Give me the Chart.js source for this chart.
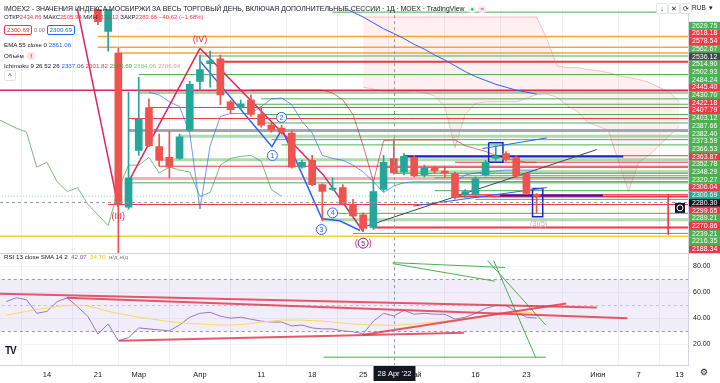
<!DOCTYPE html>
<html>
<head>
<meta charset="utf-8">
<title>IMOEX2 1D</title>
<script src="https://cdn.jsdelivr.net/npm/chart.js@4.4.1/dist/chart.umd.min.js"></script>
<style>
  html, body { margin: 0; padding: 0; background: #fff; }
  #wrap { position: relative; width: 720px; height: 383px; overflow: hidden;
          font-family: "Liberation Sans", Arial, sans-serif; color: #131722; }
  #chart { position: absolute; left: 0; top: 0; }
  .lg { position: absolute; left: 4px; white-space: nowrap; font-size: 6.5px; line-height: 9px; }
  .rd { color: #f23645; }
  .bl { color: #2962ff; }
  .box { display: inline-block; border: 1px solid #f23645; color: #f23645; border-radius: 2px;
         padding: 0 2px; line-height: 8px; background: #fff; }
  .box.b { border-color: #2962ff; color: #2962ff; }
  .btn { position: absolute; width: 10px; height: 9px; border: 1px solid #e0e3eb; border-radius: 2px;
         font-size: 7px; line-height: 9px; text-align: center; color: #131722; background: #fff; }
</style>
</head>
<body>
<div id="wrap">
  <canvas id="chart" width="720" height="383"></canvas>

  <div class="lg" style="top:4px;font-size:6.85px">IMOEX2 - ЗНАЧЕНИЯ ИНДЕКСА МОСБИРЖИ ЗА ВЕСЬ ТОРГОВЫЙ ДЕНЬ, ВКЛЮЧАЯ ДОПОЛНИТЕЛЬНЫЕ СЕССИИ · 1Д · MOEX · TradingView
    &nbsp;<span style="display:inline-block;width:8px;height:7px;border-radius:4px;background:#e8f5e9;color:#26a69a;text-align:center;font-size:6px;line-height:7px">●</span>
    <span style="display:inline-block;width:8px;height:7px;border-radius:4px;background:#fce4ec;color:#f23645;text-align:center;font-size:6px;line-height:7px">=</span></div>
  <div class="lg" style="top:13px;font-size:6px">ОТКР<span class="rd">2434.86</span> МАКС<span class="rd">2505.94</span> МИН<span class="rd">2379.12</span> ЗАКР<span class="rd">2383.66</span> <span class="rd">−40.62 (−1.68%)</span></div>
  <div class="lg" style="top:25px;font-size:6.2px"><span class="box">2300.69</span> <span style="color:#787b86;font-size:5.5px">0.00</span> <span class="box b">2300.69</span></div>
  <div class="lg" style="top:40px;font-size:6.2px">EMA 55 close 0 <span class="bl">2861.06</span></div>
  <div class="lg" style="top:51px;font-size:6.2px">Объём &nbsp;<span style="display:inline-block;width:8px;height:8px;border-radius:4px;background:#fde0e3;color:#f23645;text-align:center;font-weight:bold;line-height:8px">!</span></div>
  <div class="lg" style="top:61px;font-size:6.2px">Ichimoku 9 26 52 26 <span class="bl">2337.06</span> <span class="rd">2501.82</span> <span style="color:#43a047">2300.69</span> <span style="color:#81c784">2684.06</span> <span style="color:#ef9a9a">2786.94</span></div>
  <div class="btn" style="left:4px;top:70px">^</div>
  <div class="lg" style="top:252px;font-size:6.2px">RSI 13 close SMA 14 2 &nbsp;<span style="color:#7e57c2">42.07</span> &nbsp;<span style="color:#f5c518">34.70</span> &nbsp;<span style="color:#787b86">н/д н/д</span></div>

  <div class="btn" style="left:656px;top:3px">↓</div>
  <div class="btn" style="left:668px;top:3px">✕</div>
  <div class="btn" style="left:680px;top:3px">⟳</div>
  <div class="lg" style="left:692px;top:3px;font-size:6.5px">RUB &nbsp;▾</div>
  <div class="lg" style="left:5px;top:346px;font-size:10px;font-weight:bold;letter-spacing:-1px">TV</div>
  <div class="lg" style="left:700px;top:368px;font-size:9px;color:#131722">⚙</div>
</div>

<script>
// ---------- daily bars, x = trading-day index (0 = 14 Feb 2022) ----------
var barIdx = [5, 6, 7, 8, 9, 10, 11, 12, 13, 14, 15, 16, 17, 18, 19, 20, 21, 22, 23, 24, 25, 26,
              27, 28, 29, 30, 31, 32, 33, 34, 35, 36, 37, 38, 39, 40, 41, 42, 43, 44, 45, 46, 47, 48];
var opens  = [3010, 2890, 2813, 2261.5, 2464, 2617.5, 2478, 2439.5, 2436, 2537, 2711.7, 2774.6, 2792,
              2638.5, 2617.5, 2645.4, 2593, 2554.7, 2544, 2526.8, 2404.6, 2429, 2341.8, 2324.4, 2331.3,
              2272, 2233.6, 2188.3, 2324.4, 2434.86, 2387.2, 2439.5, 2376.7, 2401, 2390.7, 2380.2,
              2306.9, 2306.9, 2376.7, 2436, 2453.5, 2439.5, 2380.2, 2307];
var highs  = [3040, 3000, 2830, 2673, 2725.7, 2649, 2523, 2533.8, 2523, 2712, 2806, 2820, 2806,
              2645, 2645, 2663, 2621, 2561.7, 2554.7, 2533.8, 2429, 2446.5, 2345, 2366, 2341.8,
              2289.5, 2240.6, 2352.3, 2446.5, 2505.94, 2453.5, 2446.5, 2411.6, 2408, 2408, 2387.2,
              2324.4, 2369.7, 2429, 2481.4, 2460.5, 2446.5, 2387.2, 2310];
var lows   = [2915, 2820, 1900, 2254, 2446.5, 2478, 2408, 2366, 2432.5, 2534, 2680, 2690.8, 2628,
              2596.6, 2610.5, 2586, 2547.8, 2530, 2523, 2401, 2401, 2338, 2212.7, 2320.9, 2268.5,
              2226.6, 2174.3, 2181.3, 2317.4, 2379.12, 2376.7, 2369.7, 2369.7, 2383.7, 2369.7, 2289.5,
              2296.4, 2303.4, 2373.2, 2429, 2425.6, 2369.7, 2306.9, 2240];
var closes = [2925, 2985, 2272, 2366, 2575.6, 2481.4, 2429, 2404.6, 2512.8, 2701, 2753.6, 2785, 2663,
              2610.5, 2631.5, 2593, 2554.7, 2537, 2530, 2404.6, 2422, 2341.8, 2317.4, 2329.6, 2272,
              2230, 2184.8, 2317.4, 2422, 2383.66, 2443, 2373.2, 2401, 2390.7, 2383.7, 2296.4,
              2317.4, 2362.7, 2422, 2443, 2432.5, 2373.2, 2310.4, 2300.69];

// ---------- time axis ----------
var timeTicks  = [0, 5, 9, 15, 21, 26, 31, 36, 42, 47, 54, 58, 62];
var timeLabels = ['14', '21', 'Мар', 'Апр', '11', '18', '25', 'Май', '16', '23', 'Июн', '7', '13'];

// ---------- price scale tags (top to bottom) ----------
var axisPrices = ['2629.75', '2618.18', '2578.54', '2562.67', '2536.12', '2514.90', '2502.93', '2484.24',
                  '2445.40', '2430.70', '2422.18', '2407.79', '2403.12', '2387.66', '2382.40', '2373.59',
                  '2366.53', '2363.87', '2352.78', '2348.29', '2320.27', '2306.04', '2300.69', '2280.30',
                  '2299.65', '2289.21', '2270.86', '2239.21', '2216.35', '2188.34'];
var axisKinds  = ['g', 'r', 'r', 'g', 'k', 'g', 'g', 'g', 'r', 'g', 'r', 'r', 'g', 'g', 'g', 'g',
                  'g', 'r', 'g', 'g', 'g', 'r', 't', 'x', 'r', 'g', 'r', 'g', 'g', 'r'];

// ---------- horizontal levels ----------
var levelPrices = [2959.5, 2872, 2834, 2813, 2802.5, 2781.5, 2736, 2680, 2677, 2670, 2649, 2629.75,
                   2618.18, 2593, 2578.54, 2562.67, 2536.12, 2514.90, 2502.93, 2484.24, 2445.40, 2430.70,
                   2422.18, 2407.79, 2403.12, 2387.66, 2382.40, 2373.59, 2366.53, 2363.87, 2352.78,
                   2348.29, 2320.27, 2306.04, 2299.65, 2289.21, 2270.86, 2239.21, 2216.35, 2188.34,
                   2167.3, 2156.8];
var levelStarts = [28, 5, 5, 7, 15, 17, 9, -5, 9, 9, 21, 20, 10, 21, 8, 21, 8, 13, 22, 23, 35, 11,
                   40, 11, 33, 34, 34, 36, 38, 8, 40, 8, 38, 40, 40, 42, 6, 28, 27, 32, 30, -5];
var levelKinds  = ['g', 'o', 'o', 'o', 'g', 'R', 'g', 'c', 'g', 'g', 'g', 'g', 'r', 'g', 'r', 'g',
                   'k', 'G', 'g', 'g', 'r', 'G', 'r', 'r', 'g', 'G', 'g', 'g', 'g', 'P', 'g', 'g',
                   'g', 'r', 'R', 'g', 'r', 'g', 'G', 'R', 'g', 'y'];
var lastPrice = 2300.69;

// ---------- ichimoku / ema ----------
var emaFrom = 26;
var ema = [3030, 3010, 2992, 2977, 2959.5, 2942, 2921, 2900, 2883, 2865, 2844, 2827, 2806, 2788.5,
           2767.6, 2746.6, 2729, 2715, 2701, 2690.8, 2680, 2673, 2666];
var tenkanFrom = 10;
var tenkan = [2673, 2663, 2638.5, 2621, 2526.8, 2254.5, 2481.4, 2586, 2596.6, 2596.6, 2596.6, 2621,
              2649, 2652.4, 2628, 2568.6, 2526.8, 2446.5, 2436, 2429, 2411.6, 2387.2, 2352.3, 2313.9,
              2337.06, 2348.8, 2352.3, 2352.3, 2352.3, 2352.3, 2352.3, 2376.7, 2383.7, 2387.2, 2390.7,
              2394, 2394, 2394, 2394];
var kijunFrom = 20;
var kijun = [2680, 2680, 2680, 2680, 2680, 2680, 2680, 2680, 2670, 2645.4, 2593, 2481.4, 2352.3,
             2498.9, 2501.82, 2501.8, 2501.8, 2501.8, 2501.8, 2501.8, 2501.8, 2481.4, 2471, 2460.5,
             2446.5, 2436, 2429, 2422, 2422];
var laggingFrom = -5;
var lagging = [2580, 2561.7, 2544, 2530, 2404.6, 2422, 2352.3, 2317.4, 2331.3, 2272, 2233.6, 2195.2,
               2324.4, 2411.6, 2411.6, 2439.5, 2383.7, 2404.6, 2394, 2387.2, 2299.9, 2313.9, 2411.6,
               2436, 2443, 2446.5, 2425.6, 2324.4, 2299.9];
var cloudFrom = 31;
var spanB = [2942, 2942, 2942, 2942, 2942, 2942, 2942, 2942, 2942, 2942, 2942, 2942, 2942, 2942, 2942,
             2942, 2942, 2942, 2865, 2767.6, 2760.6, 2760.6, 2753.6, 2750, 2743, 2732.7, 2725.7, 2718.7,
             2708.3, 2690.8, 2673.4, 2638.5];
var spanA = [2690.8, 2684, 2677, 2673.4, 2673.4, 2677, 2671.6, 2659.4, 2621, 2474.4, 2593, 2631.5,
             2638.5, 2638.5, 2638.5, 2638.5, 2650.7, 2664.6, 2666.4, 2654.2, 2624.5, 2603.6, 2565, 2551,
             2537.2, 2429, 2317.4, 2422, 2446.5, 2481.4, 2516.3, 2551];

// ---------- drawings on price pane ----------
var waveA_x = [2.5, 7];          var waveA_y = [3057, 2261.5];
var waveB_x = [8.2, 15];         var waveB_y = [2366, 2830];
var waveC_x = [15, 27.1, 31];    var waveC_y = [2830, 2376.7, 2174.3];
var subWave_x = [15, 22.06, 23.04, 26.96, 28.7, 30.7];
var subWave_y = [2785, 2478, 2540.7, 2219.7, 2212.7, 2177.8];
var trend_x = [31.2, 53.9];      var trend_y = [2191.7, 2467.4];
var chanHi_x = [42.7, 49];       var chanHi_y = [2471, 2509.3];
var chanLo_x = [35.9, 49];       var chanLo_y = [2265, 2331.3];
var blueHi_x = [34.9, 56.5];     var blueHi_y = [2443, 2443];
var blueLo_x = [44.4, 54.5];     var blueLo_y = [2303.4, 2303.4];
var box1_x = [43.3, 44.7, 44.7, 43.3, 43.3]; var box1_y = [2491.9, 2491.9, 2422, 2422, 2491.9];
var box2_x = [47.6, 48.6, 48.6, 47.6, 47.6]; var box2_y = [2327.8, 2327.8, 2226.6, 2226.6, 2327.8];
var redV_x = [60.9, 60.9];       var redV_y = [2303.4, 2163];

var waveText = ['(III)', '(IV)', '1', '2', '3', '4', '5', '(3)(5)'];
var waveX    = [7, 15, 22.1, 23, 26.9, 28, 31, 48.2];
var waveY    = [2226.6, 2862, 2446.5, 2582.6, 2181, 2240.6, 2132.4, 2202];
var waveKind = ['roman', 'roman', 'circle', 'circle', 'circle', 'circle', 'final', 'ghost'];

// ---------- RSI pane ----------
var rsiFrom = -4;
var rsi = [53, 56, 54.5, 44, 45.5, 53, 56, 49, 41.8, 28, 35.8, 23, 25.3, 32.8, 32, 31.3, 30.5, 35, 41,
           44, 44.8, 41.8, 40.3, 41, 39.5, 38, 37.3, 37.3, 34.3, 35, 32.8, 32, 32, 30.5, 29.8, 28.3, 38,
           44, 42.07, 46.3, 43.3, 44, 43.3, 43.3, 39.5, 41, 44, 47.8, 50, 50, 45.5, 41, 40.3];
var rsiSma = [42.5, 44, 45.5, 47, 48, 49.3, 50, 50.4, 49.6, 47.8, 45.5, 44, 42.5, 41, 39.9, 38.8, 37.6,
              36.9, 36.1, 35.8, 35.4, 35, 35, 35.4, 36.1, 37.3, 38, 38.8, 38.8, 38.8, 38.4, 38, 37.3,
              36.5, 35.8, 35.4, 35, 35, 34.7, 35.4, 35.8, 36.5, 37.3, 38, 39.1, 39.9, 41, 42.1, 43.3,
              44, 44.8, 44.8, 44];
var rsiTicks = [20, 40, 60, 80];
var rsiBands = [70, 50, 30];
var rsiRed = [
  { x: [-4.6, 53.9], y: [59, 48.5] },
  { x: [1.96, 56.9], y: [56, 40.25] },
  { x: [7.06, 40.9], y: [23, 29] },
  { x: [31, 50.9],   y: [27.5, 51.5] }
];
var rsiGreen = [
  { x: [33.9, 43.9], y: [82.25, 68.75] },
  { x: [33.9, 44.9], y: [83, 79.25] },
  { x: [43.2, 48.9], y: [84.5, 35] },
  { x: [43.8, 47.9], y: [84.5, 10.25] },
  { x: [27.1, 48.9], y: [10.25, 10.25] }
];

// crosshair
var crossIdx = 34;
var crossPrice = 2280.30;
var crossDate = "28 Apr '22";

// ---------- styles ----------
var UP = '#26a69a', DOWN = '#ef5350';
var tagColor = { g: '#4caf50', r: '#f23645', k: '#434651', t: '#22ab94', x: '#131722' };
var levelStyle = {
  g: ['#4caf50', 1], G: ['rgba(76,175,80,0.45)', 3], r: ['#f23645', 1], R: ['#f23645', 2],
  o: ['#f0a830', 1.5], k: ['#a3a6af', 3], c: ['#e0245e', 1.5], P: ['rgba(242,54,69,0.4)', 3],
  y: ['#f7d23b', 1.5]
};
var X_MIN = -4.6, X_MAX = 62.84, X_END = 64;

function pts(xs, ys) {
  var out = [];
  for (var i = 0; i < xs.length; i++) out.push({ x: xs[i], y: ys[i] });
  return out;
}
function run(from, vals) {
  var out = [];
  for (var i = 0; i < vals.length; i++) out.push({ x: from + i, y: vals[i] });
  return out;
}
function line(data, color, width, order, extra) {
  var ds = { type: 'line', data: data, borderColor: color, borderWidth: width, pointRadius: 0,
             fill: false, tension: 0, order: order, yAxisID: 'y' };
  if (extra) for (var k in extra) ds[k] = extra[k];
  return ds;
}

var datasets = [];

// candles
datasets.push({
  type: 'bar', order: 0, grouped: false, barThickness: 7, minBarLength: 1, borderWidth: 0,
  data: barIdx.map(function (x, i) { return { x: x, y: [opens[i], closes[i]] }; }),
  backgroundColor: barIdx.map(function (x, i) { return closes[i] >= opens[i] ? UP : DOWN; }),
  yAxisID: 'y'
});
datasets.push({
  type: 'bar', order: 1, grouped: false, barThickness: 1, borderWidth: 0,
  data: barIdx.map(function (x, i) { return { x: x, y: [lows[i], highs[i]] }; }),
  backgroundColor: barIdx.map(function (x, i) { return closes[i] >= opens[i] ? UP : DOWN; }),
  yAxisID: 'y'
});

// wave counts and drawings
datasets.push(line(pts(waveA_x, waveA_y), '#e0245e', 1.5, 2));
datasets.push(line(pts(waveB_x, waveB_y), '#e0245e', 1.5, 2));
datasets.push(line(pts(waveC_x, waveC_y), '#e0245e', 1.5, 2));
datasets.push(line(pts(subWave_x, subWave_y), '#2962ff', 1.5, 2));
datasets.push(line(pts(trend_x, trend_y), '#434651', 1, 2));
datasets.push(line(pts(chanHi_x, chanHi_y), '#2962ff', 1, 2));
datasets.push(line(pts(chanLo_x, chanLo_y), '#2962ff', 1, 2));
datasets.push(line(pts(blueHi_x, blueHi_y), '#1e22c8', 2, 2));
datasets.push(line(pts(blueLo_x, blueLo_y), '#1e22c8', 2, 2));
datasets.push(line(pts(box1_x, box1_y), '#1e22c8', 1.5, 2));
datasets.push(line(pts(box2_x, box2_y), '#1e22c8', 1.5, 2));
datasets.push(line(pts(redV_x, redV_y), '#f23645', 1, 2));

// indicators
datasets.push(line(run(emaFrom, ema), '#2962ff', 1, 3));
datasets.push(line(run(tenkanFrom, tenkan), 'rgba(41,98,255,0.65)', 1, 3));
datasets.push(line(run(kijunFrom, kijun), 'rgba(183,28,28,0.6)', 1, 3));
datasets.push(line(run(laggingFrom, lagging), 'rgba(67,160,71,0.7)', 1, 3));

// levels
for (var i = 0; i < levelPrices.length; i++) {
  var st = levelStyle[levelKinds[i]];
  datasets.push(line([{ x: levelStarts[i], y: levelPrices[i] }, { x: X_END, y: levelPrices[i] }], st[0], st[1], 5));
}
datasets.push(line([{ x: X_MIN - 1, y: lastPrice }, { x: X_END, y: lastPrice }], 'rgba(34,171,148,0.55)', 1, 5,
  { borderDash: [1, 2] }));

// cloud (span B first, span A fills back to it)
datasets.push(line(run(cloudFrom, spanB), 'rgba(242,54,69,0.3)', 1, 8));
datasets.push(line(run(cloudFrom, spanA), 'rgba(242,54,69,0.3)', 1, 8,
  { fill: '-1', backgroundColor: 'rgba(242,54,69,0.08)' }));

// RSI pane
datasets.push(line([{ x: X_MIN - 1, y: rsiBands[0] }, { x: X_END, y: rsiBands[0] }], '#9598a1', 1, 9,
  { yAxisID: 'yr', borderDash: [3, 3] }));
datasets.push(line([{ x: X_MIN - 1, y: rsiBands[2] }, { x: X_END, y: rsiBands[2] }], '#9598a1', 1, 9,
  { yAxisID: 'yr', borderDash: [3, 3], fill: '-1', backgroundColor: 'rgba(126,87,194,0.1)' }));
datasets.push(line([{ x: X_MIN - 1, y: rsiBands[1] }, { x: X_END, y: rsiBands[1] }], 'rgba(149,152,161,0.5)', 1, 9,
  { yAxisID: 'yr', borderDash: [3, 3] }));
datasets.push(line(run(rsiFrom, rsiSma), '#fbd660', 1, 4, { yAxisID: 'yr' }));
datasets.push(line(run(rsiFrom, rsi), '#9575cd', 1, 4, { yAxisID: 'yr' }));
rsiRed.forEach(function (r) {
  datasets.push(line(pts(r.x, r.y), 'rgba(229,57,80,0.85)', 2, 3, { yAxisID: 'yr' }));
});
rsiGreen.forEach(function (g) {
  datasets.push(line(pts(g.x, g.y), '#4caf50', 1, 3, { yAxisID: 'yr' }));
});

// wave labels, crosshair, pane divider
var overlay = {
  id: 'overlay',
  afterDatasetsDraw: function (chart) {
    var ctx = chart.ctx, xs = chart.scales.x, ys = chart.scales.y, yr = chart.scales.yr;
    var area = chart.chartArea;
    ctx.save();

    // pane divider
    ctx.strokeStyle = '#d1d4dc';
    ctx.lineWidth = 1;
    ctx.beginPath();
    ctx.moveTo(0, Math.round(yr.top) + 0.5);
    ctx.lineTo(chart.width, Math.round(yr.top) + 0.5);
    ctx.stroke();

    // wave labels
    ctx.textAlign = 'center';
    ctx.textBaseline = 'middle';
    for (var i = 0; i < waveText.length; i++) {
      var px = xs.getPixelForValue(waveX[i]), py = ys.getPixelForValue(waveY[i]);
      var kind = waveKind[i];
      if (kind === 'roman') {
        ctx.font = '9px "Liberation Sans", Arial, sans-serif';
        ctx.fillStyle = '#e0245e';
        ctx.fillText(waveText[i], px, py);
      } else if (kind === 'ghost') {
        ctx.font = '7px "Liberation Sans", Arial, sans-serif';
        ctx.fillStyle = '#b2b5be';
        ctx.fillText(waveText[i], px, py);
      } else {
        var col = kind === 'final' ? '#7b1fa2' : '#2962ff';
        ctx.fillStyle = '#fff';
        ctx.strokeStyle = col;
        ctx.lineWidth = 1;
        ctx.beginPath();
        ctx.arc(px, py, 5, 0, Math.PI * 2);
        ctx.fill();
        ctx.stroke();
        ctx.font = '7px "Liberation Sans", Arial, sans-serif';
        ctx.fillStyle = col;
        ctx.fillText(waveText[i], px, py + 0.5);
        if (kind === 'final') {
          ctx.fillStyle = '#e0245e';
          ctx.font = '9px "Liberation Sans", Arial, sans-serif';
          ctx.fillText('(', px - 7, py);
          ctx.fillText(')', px + 7, py);
        }
      }
    }

    // crosshair
    var cx = Math.round(xs.getPixelForValue(crossIdx)) + 0.5;
    var cy = Math.round(ys.getPixelForValue(crossPrice)) + 0.5;
    ctx.strokeStyle = '#9598a1';
    ctx.lineWidth = 1;
    ctx.setLineDash([3, 3]);
    ctx.beginPath();
    ctx.moveTo(cx, area.top);
    ctx.lineTo(cx, area.bottom);
    ctx.moveTo(area.left, cy);
    ctx.lineTo(area.right, cy);
    ctx.stroke();
    ctx.setLineDash([]);

    // date tag on the time axis
    ctx.font = '7.5px "Liberation Sans", Arial, sans-serif';
    var tw = ctx.measureText(crossDate).width + 8;
    ctx.fillStyle = '#131722';
    ctx.fillRect(cx - tw / 2, xs.top + 1, tw, 15);
    ctx.fillStyle = '#fff';
    ctx.fillText(crossDate, cx, xs.top + 9);

    // crosshair tool icon next to price tag
    var ix = ys.left - 8, iy = ys.top + 17 + 23 * 7.9;
    ctx.fillStyle = '#131722';
    ctx.fillRect(ix - 5, iy - 5, 10, 10);
    ctx.strokeStyle = '#fff';
    ctx.beginPath();
    ctx.arc(ix, iy, 3, 0, Math.PI * 2);
    ctx.stroke();
    ctx.restore();
  }
};

new Chart(document.getElementById('chart'), {
  type: 'line',
  data: { datasets: datasets },
  options: {
    responsive: false,
    animation: false,
    events: [],
    layout: { padding: 0 },
    plugins: { legend: { display: false }, tooltip: { enabled: false } },
    scales: {
      x: {
        type: 'linear', min: X_MIN, max: X_MAX, offset: false,
        afterBuildTicks: function (s) { s.ticks = timeTicks.map(function (v) { return { value: v }; }); },
        afterFit: function (s) { s.height = 18; },
        grid: { color: '#eef0f4', drawTicks: false },
        border: { color: '#d1d4dc' },
        ticks: {
          autoSkip: false, maxRotation: 0, padding: 5, color: '#131722', font: { size: 7.5 },
          callback: function (v, i) { return timeLabels[i]; }
        }
      },
      y: {
        type: 'linear', position: 'right', stack: 'panes', stackWeight: 250,
        min: 2097.5, max: 2970,
        afterBuildTicks: function (s) {
          s.ticks = axisPrices.map(function (p, i) {
            return { value: s.max - (17 + i * 7.9) * (s.max - s.min) / 250 };
          });
        },
        afterFit: function (s) { s.width = 32; },
        grid: { display: false, drawTicks: false },
        border: { display: true, color: '#d1d4dc' },
        ticks: {
          autoSkip: false, padding: 4, color: '#ffffff',
          font: { size: 7, lineHeight: 1.13 },
          showLabelBackdrop: true,
          backdropPadding: { top: 0, bottom: 0, left: 3, right: 4 },
          backdropColor: function (c) { return tagColor[axisKinds[c.index]]; },
          callback: function (v, i) { return axisPrices[i]; }
        }
      },
      yr: {
        type: 'linear', position: 'right', stack: 'panes', stackWeight: 115,
        min: 4.25, max: 90.5,
        afterBuildTicks: function (s) { s.ticks = rsiTicks.map(function (v) { return { value: v }; }); },
        afterFit: function (s) { s.width = 32; },
        grid: { color: '#f0f3fa', drawTicks: false },
        border: { display: true, color: '#d1d4dc' },
        ticks: {
          autoSkip: false, padding: 5, color: '#131722', font: { size: 7 },
          callback: function (v) { return v.toFixed(2); }
        }
      }
    }
  },
  plugins: [overlay]
});
</script>
</body>
</html>
